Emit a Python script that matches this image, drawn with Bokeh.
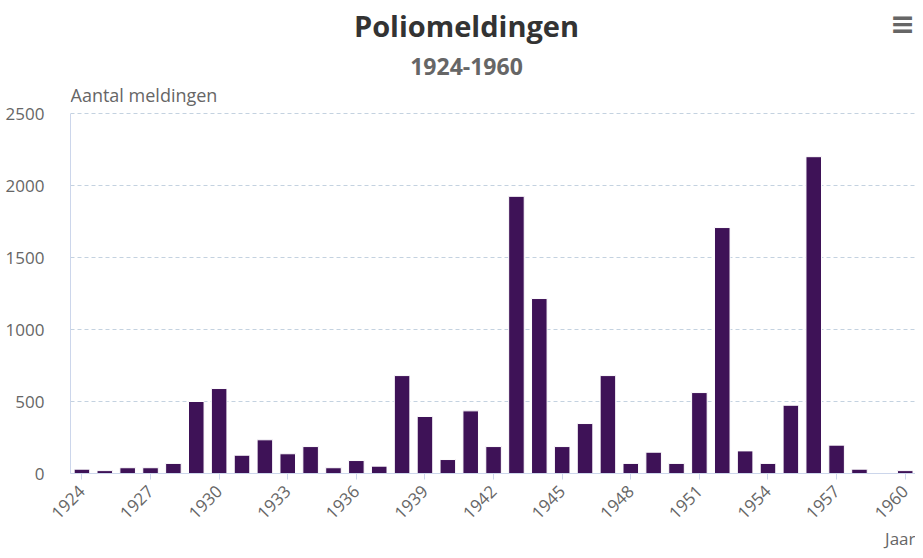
import math
from bokeh.plotting import figure
from bokeh.models import ColumnDataSource, FixedTicker, Range1d, Title, Label
from bokeh.embed import file_html
from bokeh.resources import INLINE

years = list(range(1924, 1961))
cases = [30, 20, 40, 40, 70, 500, 590, 127, 234, 137, 187, 40, 90, 51,
         680, 396, 97, 435, 187, 1925, 1215, 187, 347, 680, 70, 148, 70,
         562, 1708, 157, 70, 474, 2200, 197, 30, 0, 20]
x_ticks = list(range(1924, 1961, 3))
y_ticks = [0, 500, 1000, 1500, 2000, 2500]
y_max = 2500

title_text = "Poliomeldingen"
subtitle_text = "1924-1960"
y_title = "Aantal meldingen"
x_title = "Jaar"
menu_icon = "\u2261"

FONT = "Open Sans"
BAR = "#3e1257"
GREY = "#666666"
AXIS = "#ccd6eb"

# layout (pixels): plot area spans 113..473 vertically for 0..2500;
# the region above it (titles) is kept inside the frame, axis bounded to 0..2500
FRAME_BOTTOM = 473
PLOT_TOP = 113
PX_PER_UNIT = (FRAME_BOTTOM - PLOT_TOP) / y_max
y_top = FRAME_BOTTOM / PX_PER_UNIT

src = ColumnDataSource(data=dict(year=years, cases=cases))

p = figure(width=915, height=550, output_backend="svg", toolbar_location=None,
           x_range=Range1d(1923.5, 1960.45), y_range=Range1d(0, y_top),
           min_border_left=70, min_border_right=0, min_border_top=0,
           min_border_bottom=77)
p.outline_line_color = None
p.background_fill_color = "white"
p.border_fill_color = "white"

p.vbar(x="year", top="cases", width=0.68, source=src, fill_color=BAR,
       line_color="white", line_width=1)

# x axis
xa = p.xaxis[0]
xa.ticker = FixedTicker(ticks=x_ticks)
xa.axis_line_color = AXIS
xa.major_tick_line_color = AXIS
xa.major_tick_in = 0
xa.major_tick_out = 6
xa.minor_tick_line_color = None
xa.major_label_orientation = math.pi / 4
xa.major_label_text_font = FONT
xa.major_label_text_font_size = "17px"
xa.major_label_text_color = GREY
xa.major_label_standoff = 9

# y axis
ya = p.yaxis[0]
ya.ticker = FixedTicker(ticks=y_ticks)
ya.bounds = (0, y_max)
ya.axis_line_color = AXIS
ya.major_tick_line_color = None
ya.minor_tick_line_color = None
ya.major_label_text_font = FONT
ya.major_label_text_font_size = "17px"
ya.major_label_text_color = GREY
ya.major_label_standoff = 20

p.xgrid.grid_line_color = None
p.ygrid.ticker = FixedTicker(ticks=y_ticks)
p.ygrid.grid_line_color = "#c4d2e0"
p.ygrid.grid_line_dash = "4 3"
p.ygrid.grid_line_width = 1

# texts above the plot area (screen units: from frame left / frame bottom)
def add_label(text, px, py, size, bold=False, color=GREY, align="left",
              baseline="alphabetic", font=FONT):
    p.add_layout(Label(x=px - 70, y=FRAME_BOTTOM - py, x_units="screen",
                       y_units="screen", text=text, text_font=font,
                       text_font_size=size,
                       text_font_style="bold" if bold else "normal",
                       text_color=color, text_align=align,
                       text_baseline=baseline))

add_label(title_text, 466, 25, "29px", bold=True, color="#333333", align="center")
add_label(subtitle_text, 466, 66, "23px", bold=True, color=GREY, align="center")
add_label(y_title, 70, 94, "18px")
add_label(menu_icon, 902, 23, "30px", bold=True, color=GREY, align="center",
          baseline="middle", font="DejaVu Sans")

p.add_layout(Title(text=x_title, align="right", offset=0, standoff=-5,
                   text_font=FONT, text_font_size="17px",
                   text_font_style="normal", text_color=GREY), "below")

open("out.html", "w").write(file_html(p, INLINE))
